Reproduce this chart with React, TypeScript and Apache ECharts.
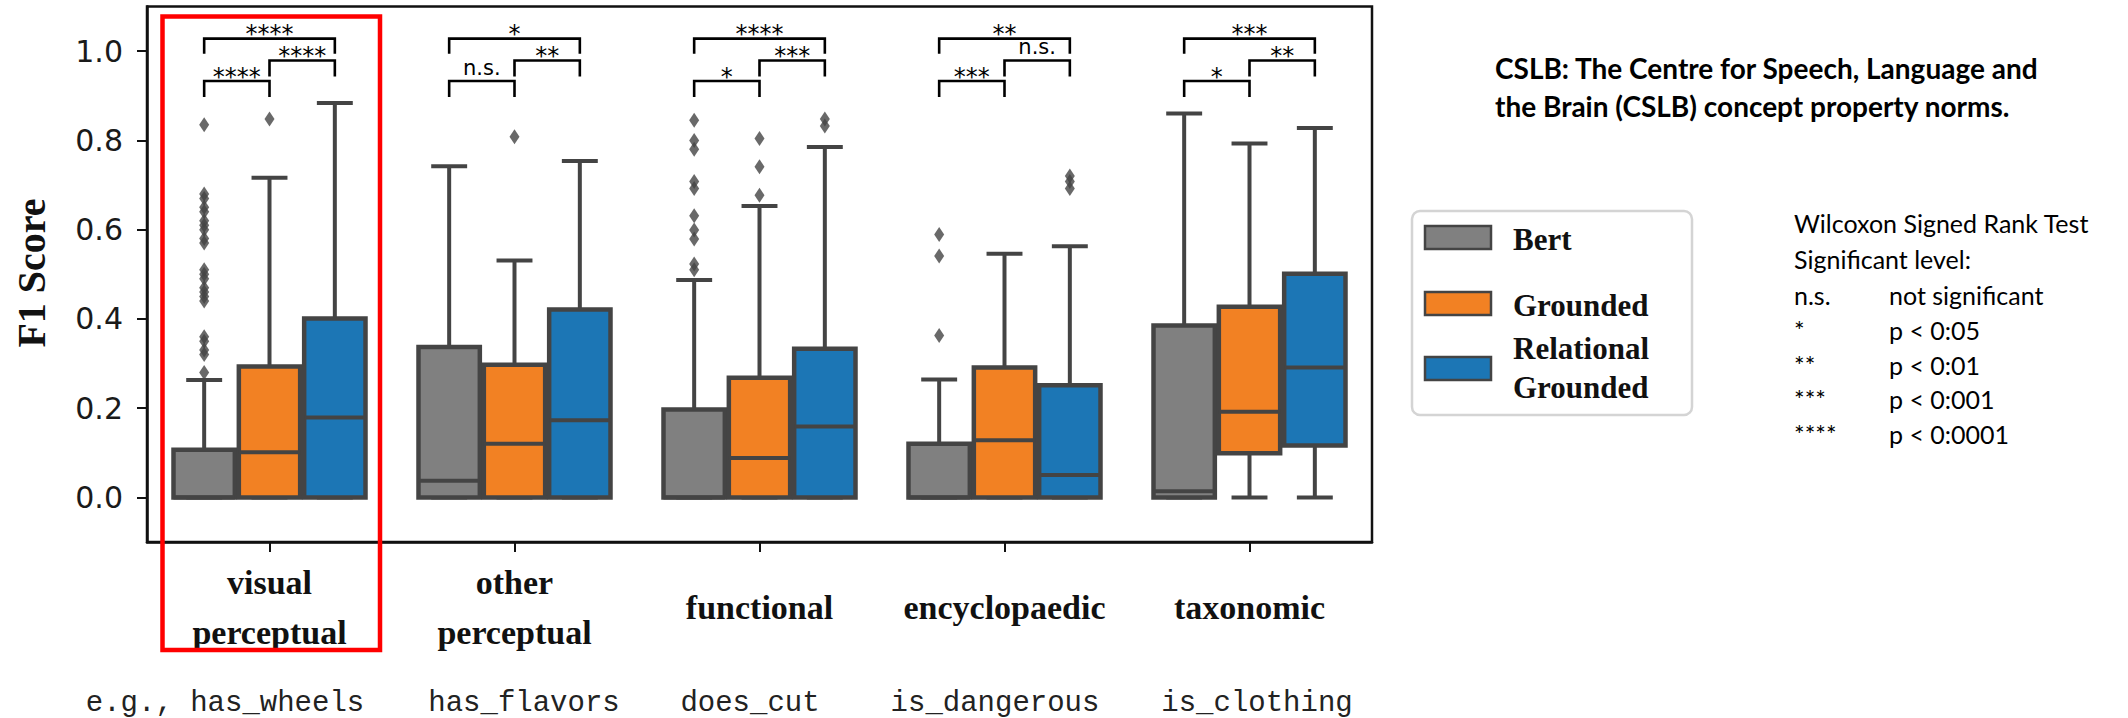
import React, { useEffect, useRef } from "react";
import * as echarts from "echarts";

// ---------- data ----------
const categories = ["visual\nperceptual", "other\nperceptual", "functional", "encyclopaedic", "taxonomic"];
const examples = ["e.g., has_wheels", "has_flavors", "does_cut", "is_dangerous", "is_clothing"];
const models = ["Bert", "Grounded", "Relational\nGrounded"];
const modelColors = ["#808080", "#f28123", "#1c76b5"];
const yTicks = [0, 0.2, 0.4, 0.6, 0.8, 1.0];

// [min, q1, median, q3, max] per category
const bertBoxes = [
  [0, 0, 0, 0.107, 0.263],
  [0, 0, 0.037, 0.337, 0.742],
  [0, 0, 0, 0.197, 0.487],
  [0, 0, 0, 0.12, 0.264],
  [0, 0, 0.014, 0.385, 0.86],
];
const groundedBoxes = [
  [0, 0, 0.101, 0.293, 0.716],
  [0, 0, 0.12, 0.297, 0.531],
  [0, 0, 0.088, 0.268, 0.653],
  [0, 0, 0.128, 0.291, 0.546],
  [0, 0.099, 0.192, 0.427, 0.793],
];
const relationalBoxes = [
  [0, 0, 0.179, 0.401, 0.884],
  [0, 0, 0.173, 0.421, 0.754],
  [0, 0, 0.159, 0.333, 0.785],
  [0, 0, 0.05, 0.251, 0.563],
  [0, 0.116, 0.291, 0.501, 0.828],
];

// outliers: [categoryIndex, value]
const bertOutliers = [
  [0, 0.835], [0, 0.68], [0, 0.67], [0, 0.65], [0, 0.64], [0, 0.62], [0, 0.61], [0, 0.6],
  [0, 0.58], [0, 0.57], [0, 0.51], [0, 0.5], [0, 0.49], [0, 0.47], [0, 0.46], [0, 0.45],
  [0, 0.44], [0, 0.36], [0, 0.35], [0, 0.33], [0, 0.32], [0, 0.28],
  [2, 0.845], [2, 0.8], [2, 0.78], [2, 0.708], [2, 0.692], [2, 0.631], [2, 0.599], [2, 0.579],
  [2, 0.523], [2, 0.51],
  [3, 0.589], [3, 0.541], [3, 0.363],
];
const groundedOutliers = [
  [0, 0.848], [1, 0.808], [2, 0.677], [2, 0.741], [2, 0.804],
];
const relationalOutliers = [
  [2, 0.848], [2, 0.832], [3, 0.72], [3, 0.708], [3, 0.692],
];

// significance labels per category
const sigBertGrounded = ["****", "n.s.", "*", "***", "*"];
const sigGroundedRelational = ["****", "**", "***", "n.s.", "**"];
const sigBertRelational = ["****", "*", "****", "**", "***"];

const legendNotes = [
  ["n.s.", "not significant"],
  ["*", "p < 0:05"],
  ["**", "p < 0:01"],
  ["***", "p < 0:001"],
  ["****", "p < 0:0001"],
];

// ---------- styling constants ----------
const LINE = "#444444";
const HUE_W = 0.8 / 3;
const boxSets = [bertBoxes, groundedBoxes, relationalBoxes];
const outlierSets = [bertOutliers, groundedOutliers, relationalOutliers];

function boxSeries(idx: number) {
  const offset = (idx - 1) * HUE_W;
  return {
    type: "custom",
    name: models[idx],
    xAxisIndex: 0,
    yAxisIndex: 0,
    z: 3,
    encode: { x: 0, y: [1, 2, 3, 4, 5] },
    data: boxSets[idx].map((b, i) => [i, ...b]),
    renderItem: (params: any, api: any) => {
      const cat = api.value(0);
      const mn = api.value(1), q1 = api.value(2), med = api.value(3), q3 = api.value(4), mx = api.value(5);
      const unit = api.size([1, 0])[0];
      const bw = unit * HUE_W;
      const cx = api.coord([cat + offset, 0])[0];
      const y = (v: number) => api.coord([cat, v])[1];
      const capW = bw * 0.55;
      const ls = { stroke: LINE, lineWidth: 4 };
      return {
        type: "group",
        children: [
          { type: "line", shape: { x1: cx, y1: y(q3), x2: cx, y2: y(mx) }, style: ls },
          { type: "line", shape: { x1: cx, y1: y(q1), x2: cx, y2: y(mn) }, style: ls },
          { type: "line", shape: { x1: cx - capW / 2, y1: y(mx), x2: cx + capW / 2, y2: y(mx) }, style: ls },
          { type: "line", shape: { x1: cx - capW / 2, y1: y(mn), x2: cx + capW / 2, y2: y(mn) }, style: ls },
          {
            type: "rect",
            shape: { x: cx - bw / 2 + 2, y: y(q3), width: bw - 4, height: y(q1) - y(q3) },
            style: { fill: modelColors[idx], stroke: LINE, lineWidth: 4.5 },
          },
          { type: "line", shape: { x1: cx - bw / 2 + 2, y1: y(med), x2: cx + bw / 2 - 2, y2: y(med) }, style: ls },
        ],
      };
    },
  };
}

function outlierSeries(idx: number) {
  const offset = (idx - 1) * HUE_W;
  return {
    type: "scatter",
    name: models[idx] + " outliers",
    xAxisIndex: 0,
    yAxisIndex: 0,
    z: 4,
    symbol: "diamond",
    symbolSize: [10, 15],
    itemStyle: { color: LINE },
    data: outlierSets[idx].map(([c, v]) => [c + offset, v]),
  };
}

const bracketSeries = {
  type: "custom",
  name: "significance",
  xAxisIndex: 0,
  yAxisIndex: 0,
  z: 5,
  encode: { x: 0, y: 1 },
  data: categories.map((_, i) => [i, 1.0]),
  renderItem: (params: any, api: any) => {
    const cat = api.value(0);
    const i = params.dataIndex;
    const y = (v: number) => api.coord([cat, v])[1];
    const x = (h: number) => api.coord([cat + h * HUE_W, 0])[0];
    const levels = [
      { a: -1, b: 0, bar: 0.933, leg: 0.897, label: sigBertGrounded[i] },
      { a: 0, b: 1, bar: 0.979, leg: 0.943, label: sigGroundedRelational[i] },
      { a: -1, b: 1, bar: 1.028, leg: 0.994, label: sigBertRelational[i] },
    ];
    const children: any[] = [];
    levels.forEach((l) => {
      const xa = x(l.a), xb = x(l.b), yb = y(l.bar), yl = y(l.leg);
      children.push({
        type: "polyline",
        shape: { points: [[xa, yl], [xa, yb], [xb, yb], [xb, yl]] },
        style: { stroke: "#000", lineWidth: 2.6, fill: null },
      });
      const isStar = l.label.indexOf("*") >= 0;
      children.push({
        type: "text",
        x: (xa + xb) / 2,
        y: yb - (isStar ? 4.2 : 13),
        style: {
          text: l.label,
          fill: "#000",
          fontSize: isStar ? 24 : 21,
          fontFamily: "DejaVu Sans",
          align: "center",
          verticalAlign: "middle",
        },
      });
    });
    return { type: "group", children };
  },
};

export default function App() {
  const ref = useRef<HTMLDivElement>(null);
  useEffect(() => {
    if (!ref.current) return;
    const chart = echarts.init(ref.current, undefined, { renderer: "svg" });
    const legendY = [237.5, 303.5, 368.5];
    const graphic: any[] = [
      // red highlight box
      {
        type: "rect",
        z: 100,
        shape: { x: 162.5, y: 16.5, width: 217.5, height: 633.5 },
        style: { fill: "transparent", stroke: "#ff0000", lineWidth: 4.5 },
      },
      // y axis title
      {
        type: "text",
        x: 31,
        y: 273,
        rotation: Math.PI / 2,
        style: {
          text: "F1 Score",
          fill: "#111",
          fontSize: 40,
          fontWeight: "bold",
          fontFamily: "Liberation Serif",
          align: "center",
          verticalAlign: "middle",
        },
      },
      // title
      {
        type: "text",
        x: 1495,
        y: 68,
        style: {
          text: "CSLB: The Centre for Speech, Language and",
          fill: "#000",
          fontSize: 28,
          fontWeight: "bold",
          fontFamily: "Lato",
          align: "left",
          verticalAlign: "middle",
        },
      },
      {
        type: "text",
        x: 1495,
        y: 106,
        style: {
          text: "the Brain (CSLB) concept property norms.",
          fill: "#000",
          fontSize: 28,
          fontWeight: "bold",
          fontFamily: "Lato",
          align: "left",
          verticalAlign: "middle",
        },
      },
      // legend frame
      {
        type: "rect",
        shape: { x: 1412, y: 211, width: 280, height: 204, r: 8 },
        style: { fill: "#fff", stroke: "#d4d4d4", lineWidth: 2.5 },
      },
      // wilcoxon header
      {
        type: "text",
        x: 1794,
        y: 223,
        style: { text: "Wilcoxon Signed Rank Test", fill: "#000", fontSize: 25, fontFamily: "Lato", verticalAlign: "middle" },
      },
      {
        type: "text",
        x: 1794,
        y: 259,
        style: { text: "Significant level:", fill: "#000", fontSize: 25, fontFamily: "Lato", verticalAlign: "middle" },
      },
    ];
    models.forEach((m, i) => {
      graphic.push({
        type: "rect",
        shape: { x: 1425, y: legendY[i] - 11.5, width: 66, height: 23 },
        style: { fill: modelColors[i], stroke: LINE, lineWidth: 2.5 },
      });
      graphic.push({
        type: "text",
        x: 1513,
        y: legendY[i] + (i === 2 ? -1 : 2),
        style: {
          text: m,
          fill: "#111",
          fontSize: 31,
          lineHeight: 39,
          fontWeight: "bold",
          fontFamily: "Liberation Serif",
          align: "left",
          verticalAlign: "middle",
        },
      });
    });
    legendNotes.forEach(([k, v], i) => {
      const yy = 295 + i * 34.8;
      graphic.push({
        type: "text",
        x: 1794,
        y: yy,
        style: { text: k, fill: "#000", fontSize: 25, fontFamily: "Lato", verticalAlign: "middle" },
      });
      graphic.push({
        type: "text",
        x: 1889,
        y: yy,
        style: { text: v, fill: "#000", fontSize: 25, fontFamily: "Lato", verticalAlign: "middle" },
      });
    });
    const exampleX = [225, 524, 750, 995, 1257];
    examples.forEach((e, i) => {
      graphic.push({
        type: "text",
        x: exampleX[i],
        y: 703,
        style: {
          text: e,
          fill: "#222",
          fontSize: 29,
          fontFamily: "Liberation Mono",
          align: "center",
          verticalAlign: "middle",
        },
      });
    });

    chart.setOption({
      animation: false,
      backgroundColor: "#ffffff",
      grid: {
        left: 147,
        right: 2128 - 1372,
        top: 6.5,
        bottom: 718 - 542,
        show: true,
        borderColor: "#111",
        borderWidth: 2.5,
        backgroundColor: "transparent",
      },
      xAxis: {
        type: "value",
        min: -0.5,
        max: 4.5,
        splitLine: { show: false },
        axisLine: { show: true, onZero: false, lineStyle: { color: "#111", width: 2.5 } },
        axisTick: {
          show: true,
          length: 10,
          lineStyle: { color: "#111", width: 2 },
          customValues: [0, 1, 2, 3, 4],
        },
        axisLabel: {
          customValues: [0, 1, 2, 3, 4],
          formatter: (v: number) => categories[Math.round(v)] ?? "",
          margin: 65,
          fontSize: 34,
          lineHeight: 50,
          fontWeight: "bold",
          fontFamily: "Liberation Serif",
          color: "#111",
          verticalAlign: "middle",
        },
      },
      yAxis: {
        type: "value",
        min: -0.1,
        max: 1.1,
        splitLine: { show: false },
        axisLine: { show: true, onZero: false, lineStyle: { color: "#111", width: 2.5 } },
        axisTick: {
          show: true,
          length: 10,
          lineStyle: { color: "#111", width: 2 },
          customValues: yTicks,
        },
        axisLabel: {
          customValues: yTicks,
          formatter: (v: number) => v.toFixed(1),
          margin: 24,
          fontSize: 30,
          fontFamily: "DejaVu Sans",
          color: "#1a1a1a",
        },
      },
      series: [
        boxSeries(0),
        boxSeries(1),
        boxSeries(2),
        outlierSeries(0),
        outlierSeries(1),
        outlierSeries(2),
        bracketSeries,
      ],
      graphic,
    });
    return () => chart.dispose();
  }, []);
  return (
    <div
      ref={ref}
      style={{ position: "fixed", left: 0, top: 0, width: 2128, height: 718, background: "#fff" }}
    />
  );
}
